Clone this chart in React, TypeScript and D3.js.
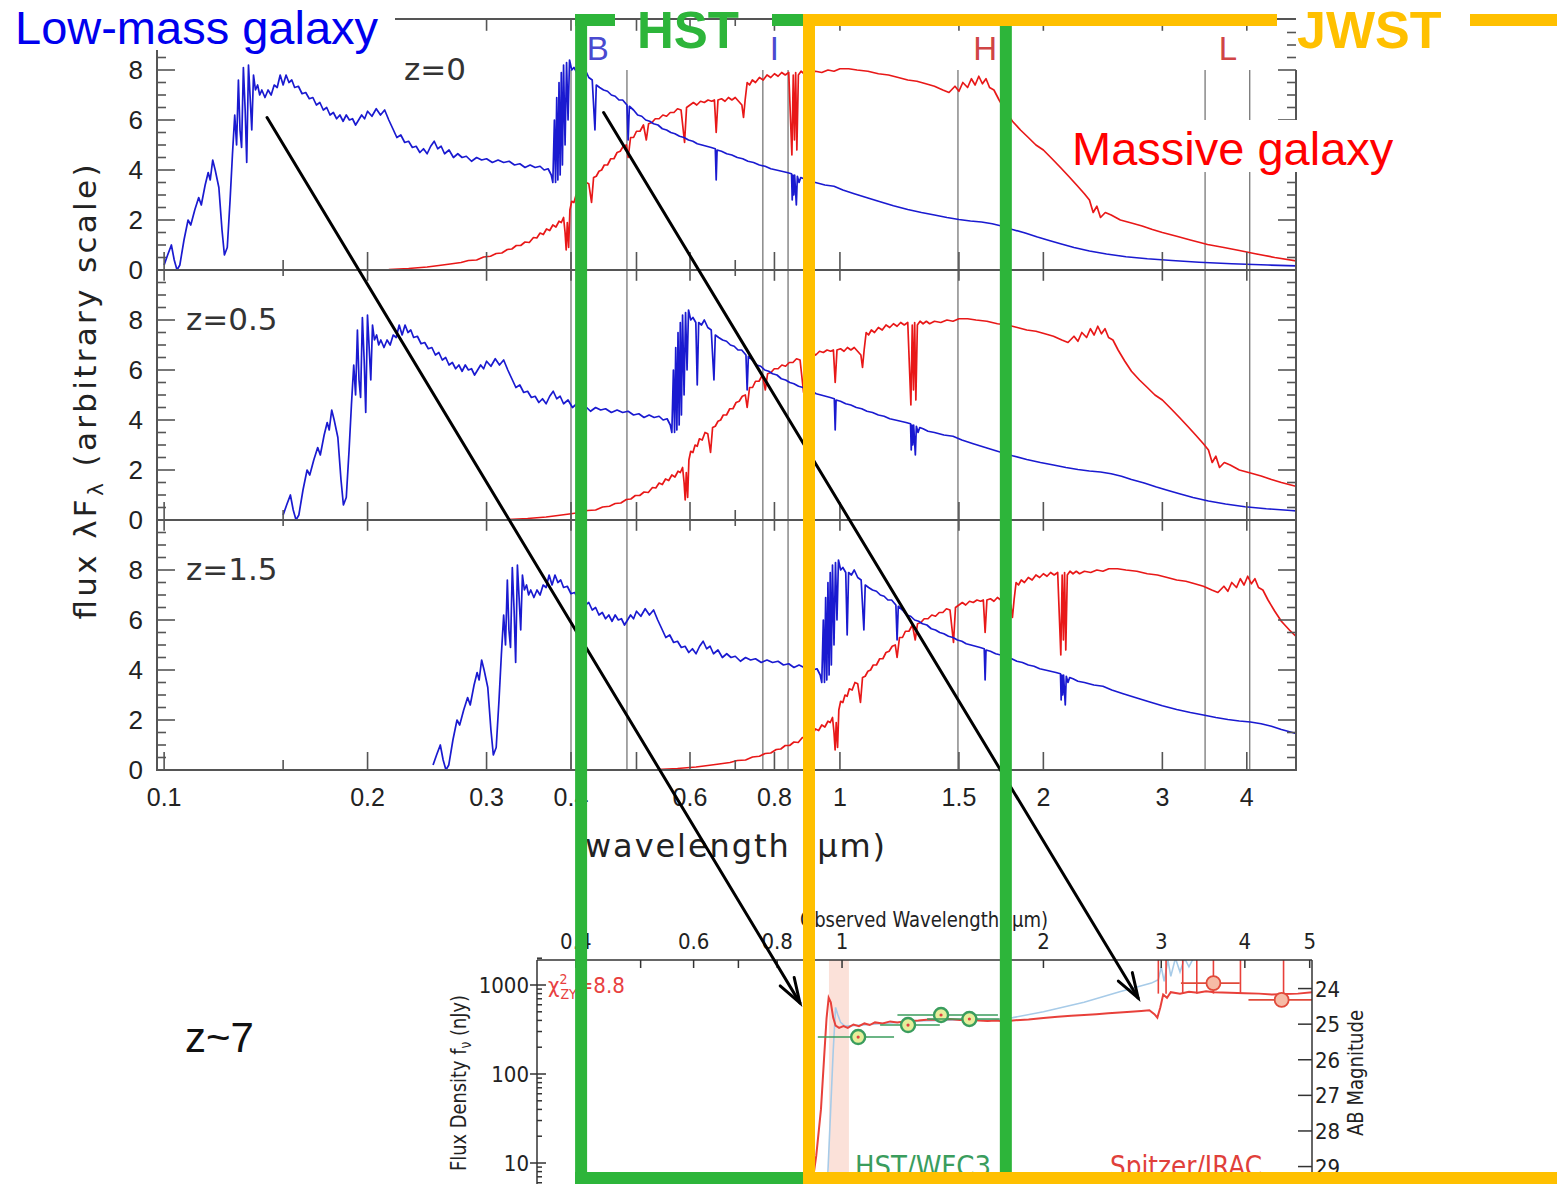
import React from "react";
import * as d3 from "d3";

// redshift of each stacked panel
const redshifts = [0, 0.5, 1.5];
const redshiftLabels = ["z=0", "z=0.5", "z=1.5"];

const lowMassSpectrum: [number, number][] = [
  [0.100,0.2],[0.1012,0.6],[0.1025,1.0],[0.1035,0.4],[0.1045,0.0],[0.1055,0.2],[0.107,1.2],[0.1085,2.0],[0.1095,1.8],[0.111,2.4],
  [0.1125,2.9],[0.1135,2.6],[0.115,3.4],[0.1162,3.9],[0.117,3.6],[0.118,4.4],[0.119,4.0],[0.1205,3.3],[0.1218,1.6],[0.1228,0.6],
  [0.124,0.9],[0.1252,2.8],[0.1262,4.6],[0.1272,6.2],[0.128,5.0],[0.1288,7.6],[0.1295,5.6],[0.1302,4.9],[0.131,8.1],[0.1318,6.4],
  [0.1325,4.3],[0.1333,8.2],[0.134,7.0],[0.1348,5.6],[0.1356,7.8],[0.1365,7.2],[0.1375,7.4],[0.1385,7.0],[0.1395,7.2],[0.141,6.9],
  [0.1425,7.2],[0.144,7.0],[0.1455,7.4],[0.147,7.3],[0.1485,7.8],[0.150,7.4],[0.1515,7.8],[0.153,7.5],[0.1545,7.6],[0.156,7.3],
  [0.158,7.35],[0.160,7.05],[0.162,7.1],[0.164,6.85],[0.166,6.9],[0.168,6.6],[0.170,6.7],[0.172,6.4],[0.174,6.5],[0.176,6.2],
  [0.178,6.3],[0.180,6.05],[0.182,6.2],[0.184,5.95],[0.186,6.2],[0.188,6.0],[0.190,6.05],[0.192,5.8],[0.194,6.0],[0.196,6.2],
  [0.198,6.05],[0.200,6.35],[0.203,6.15],[0.206,6.45],[0.209,6.2],[0.212,6.4],[0.215,6.0],[0.218,5.65],[0.221,5.3],[0.224,5.4],
  [0.227,5.1],[0.230,5.15],[0.233,4.9],[0.236,4.95],[0.239,4.7],[0.242,4.85],[0.245,4.65],[0.248,4.95],[0.251,5.15],[0.254,4.85],
  [0.257,4.95],[0.260,4.65],[0.264,4.8],[0.268,4.5],[0.272,4.65],[0.276,4.5],[0.280,4.55],[0.285,4.35],[0.290,4.5],[0.295,4.4],
  [0.300,4.45],[0.306,4.3],[0.312,4.4],[0.318,4.3],[0.324,4.35],[0.330,4.2],[0.336,4.25],[0.342,4.1],[0.348,4.2],[0.354,4.1],
  [0.360,4.15],[0.365,4.0],[0.370,4.05],[0.374,3.8],[0.376,3.5],[0.378,6.0],[0.3795,3.5],[0.381,6.9],[0.3825,3.6],[0.384,7.5],
  [0.3855,3.8],[0.387,7.9],[0.3885,4.2],[0.390,8.2],[0.392,5.0],[0.394,8.3],[0.396,6.0],[0.398,8.4],[0.401,8.0],[0.404,8.1],
  [0.408,7.9],[0.410,5.4],[0.412,7.9],[0.416,7.8],[0.420,8.0],[0.425,7.7],[0.430,7.6],[0.434,5.6],[0.436,7.4],[0.441,7.3],
  [0.447,7.2],[0.453,7.15],[0.459,7.0],[0.465,6.95],[0.471,6.8],[0.477,6.8],[0.484,6.6],[0.486,5.2],[0.488,6.55],[0.495,6.4],
  [0.502,6.2],[0.509,6.15],[0.516,6.0],[0.523,5.95],[0.530,5.85],[0.538,5.8],[0.546,5.65],[0.554,5.6],[0.562,5.5],[0.570,5.45],
  [0.579,5.35],[0.588,5.3],[0.597,5.2],[0.606,5.15],[0.615,5.05],[0.625,5.0],[0.635,4.95],[0.645,4.9],[0.654,4.85],[0.656,3.6],
  [0.658,4.8],[0.668,4.75],[0.680,4.65],[0.692,4.6],[0.705,4.5],[0.718,4.45],[0.731,4.35],[0.745,4.3],[0.760,4.2],[0.775,4.15],
  [0.790,4.05],[0.805,4.0],[0.820,3.95],[0.835,3.9],[0.848,3.85],[0.850,2.8],[0.852,3.8],[0.8545,3.0],[0.857,3.8],[0.862,2.6],
  [0.865,3.75],[0.870,3.5],[0.875,3.7],[0.885,3.65],[0.900,3.55],[0.920,3.5],[0.950,3.4],[0.980,3.35],[1.01,3.2],[1.05,3.05],
  [1.10,2.88],[1.15,2.72],[1.20,2.57],[1.26,2.42],[1.32,2.3],[1.38,2.2],[1.44,2.1],[1.50,2.02],[1.56,1.96],[1.62,1.92],
  [1.68,1.85],[1.74,1.75],[1.80,1.62],[1.88,1.48],[1.96,1.32],[2.04,1.18],[2.12,1.05],[2.22,0.9],[2.34,0.76],[2.48,0.64],
  [2.65,0.53],[2.85,0.45],[3.10,0.38],[3.40,0.31],[3.80,0.25],[4.30,0.2],[4.80,0.16],
];

const massiveSpectrum: [number, number][] = [
  [0.200,0.0],[0.215,0.02],[0.230,0.06],[0.245,0.12],[0.255,0.18],[0.265,0.24],[0.275,0.3],[0.282,0.38],[0.290,0.4],[0.297,0.52],
  [0.304,0.55],[0.310,0.66],[0.316,0.68],[0.322,0.82],[0.327,0.84],[0.332,0.98],[0.337,0.98],[0.342,1.12],[0.347,1.1],[0.352,1.3],
  [0.356,1.28],[0.360,1.48],[0.364,1.42],[0.368,1.64],[0.372,1.58],[0.376,1.8],[0.380,1.72],[0.384,1.95],[0.387,1.9],[0.390,2.1],
  [0.392,1.5],[0.3935,0.8],[0.395,1.9],[0.3968,0.9],[0.3985,2.4],[0.401,2.75],[0.404,2.7],[0.407,3.0],[0.410,2.95],[0.413,3.25],
  [0.417,3.2],[0.421,3.5],[0.425,3.45],[0.429,2.7],[0.432,3.7],[0.436,3.75],[0.440,3.95],[0.444,4.0],[0.448,4.2],[0.453,4.2],
  [0.458,4.45],[0.463,4.45],[0.468,4.7],[0.473,4.75],[0.478,4.95],[0.483,5.0],[0.486,4.5],[0.490,5.3],[0.495,5.3],[0.500,5.55],
  [0.506,5.55],[0.512,5.8],[0.517,5.2],[0.521,5.85],[0.527,5.9],[0.533,6.05],[0.540,6.05],[0.547,6.2],[0.554,6.15],[0.561,6.3],
  [0.568,6.3],[0.575,6.45],[0.582,6.4],[0.589,5.1],[0.593,6.5],[0.600,6.6],[0.607,6.7],[0.614,6.6],[0.622,6.75],[0.630,6.7],
  [0.638,6.8],[0.646,6.75],[0.652,6.8],[0.656,5.5],[0.660,6.8],[0.668,6.85],[0.676,6.75],[0.684,6.9],[0.692,6.8],[0.700,6.9],
  [0.708,6.75],[0.716,6.6],[0.720,6.1],[0.724,6.8],[0.729,7.5],[0.735,7.4],[0.742,7.6],[0.750,7.5],[0.760,7.7],[0.770,7.6],
  [0.780,7.8],[0.790,7.7],[0.800,7.85],[0.810,7.75],[0.820,7.9],[0.830,7.8],[0.840,7.9],[0.849,4.6],[0.853,7.8],[0.8565,5.2],
  [0.860,7.9],[0.8635,4.8],[0.868,7.8],[0.876,7.95],[0.885,7.85],[0.895,7.95],[0.905,7.85],[0.920,7.95],[0.940,7.9],[0.960,8.0],
  [0.980,7.95],[1.00,8.05],[1.03,8.05],[1.06,8.0],[1.10,7.95],[1.14,7.85],[1.18,7.8],[1.22,7.7],[1.26,7.6],[1.30,7.55],
  [1.34,7.45],[1.38,7.35],[1.42,7.2],[1.45,7.1],[1.48,7.35],[1.50,7.15],[1.52,7.5],[1.545,7.3],[1.565,7.65],[1.585,7.4],
  [1.605,7.75],[1.625,7.45],[1.645,7.65],[1.665,7.3],[1.69,7.2],[1.72,6.8],[1.76,6.35],[1.80,5.95],[1.85,5.6],[1.90,5.3],
  [1.95,5.0],[2.00,4.8],[2.06,4.45],[2.12,4.1],[2.18,3.75],[2.24,3.4],[2.30,3.05],[2.34,2.8],[2.37,2.3],[2.40,2.55],
  [2.43,2.1],[2.47,2.3],[2.52,2.2],[2.60,2.0],[2.70,1.88],[2.80,1.76],[2.90,1.62],[3.00,1.5],[3.15,1.35],[3.30,1.2],
  [3.50,1.02],[3.70,0.9],[3.90,0.78],[4.10,0.66],[4.40,0.5],[4.80,0.34],
];

const waveTicks = [0.1, 0.15, 0.2, 0.3, 0.4, 0.5, 0.6, 0.7, 0.8, 0.9, 1, 1.5, 2, 3, 4];
const shortWaveTicks = [0.15, 0.7, 0.9];
const waveLabels = [0.1, 0.2, 0.3, 0.4, 0.6, 0.8, 1, 1.5, 2, 3, 4];
const fluxLabels = [0, 2, 4, 6, 8];

// filter bands (edges in um) and their letters
const filterEdges = [0.40, 0.484, 0.769, 0.838, 1.495, 1.75, 3.47, 4.04];
const filterNames = ["B", "I", "H", "L"];
const filterCentres = [0.438, 0.80, 1.64, 3.75];

// instrument coverage boxes (um)
const hstRange = [0.414, 1.76];
const jwstStart = 0.9;

// z~7 inset
const insetWaveLabels = [0.4, 0.6, 0.8, 1, 2, 3, 4, 5];
const insetWaveTicks = [0.4, 0.5, 0.6, 0.7, 0.8, 0.9, 1, 2, 3, 4, 5];
const insetFluxLabels = [10, 100, 1000];
const abMagLabels = [24, 25, 26, 27, 28, 29];
const sedModel: [number, number][] = [
  [0.90,5],[0.915,12],[0.93,40],[0.94,150],[0.948,420],[0.955,720],[0.962,640],[0.97,430],[0.978,350],[0.99,330],
  [1.005,345],[1.02,330],[1.04,360],[1.06,345],[1.08,370],[1.10,355],[1.12,380],[1.15,370],[1.18,390],[1.21,380],
  [1.25,395],[1.30,400],[1.35,410],[1.40,405],[1.45,415],[1.50,405],[1.55,410],[1.60,400],[1.65,395],[1.70,400],
  [1.75,390],[1.80,400],[1.90,410],[2.00,425],[2.10,440],[2.20,450],[2.30,460],[2.40,470],[2.50,480],[2.60,490],
  [2.70,500],[2.80,510],[2.88,520],[2.93,470],[2.96,430],[2.99,560],[3.02,780],[3.06,720],[3.10,830],[3.20,800],
  [3.30,840],[3.40,820],[3.50,850],[3.60,830],[3.80,820],[4.00,810],[4.20,800],[4.40,780],[4.60,790],[4.80,800],[5.05,830],
];
const sedModelAlt: [number, number][] = [
  [0.95,5],[0.96,30],[0.97,180],[0.978,560],[0.985,470],[0.995,380],[1.01,345],[1.1,360],[1.3,395],[1.5,405],
  [1.7,405],[1.8,430],[2.0,500],[2.3,640],[2.6,840],[2.9,1050],[2.97,1150],[3.0,1600],[3.03,1100],[3.07,1900],
  [3.1,1250],[3.15,2000],[3.2,1400],[3.25,2000],[3.3,1600],[3.35,2000],
];
// photometry: [wavelength, low edge, high edge, flux nJy]
const hstPhot = [[1.057, 0.92, 1.196, 260], [1.255, 1.14, 1.40, 355], [1.406, 1.21, 1.71, 460], [1.55, 1.34, 1.72, 415]];
const iracPhot = [[3.59, 3.21, 3.93, 1050], [4.54, 4.05, 5.05, 680]];
const iracSpikes = [2.97, 3.05, 3.23, 3.39, 3.59, 3.94, 4.57];
const dropoutBand = [0.956, 1.024];

// arrows: [rest wavelength, flux] in the z=0 panel -> [observed wavelength, nJy] in the inset
const arrowStarts = [[0.142, 6.1], [0.447, 6.3]];
const arrowEnds = [[0.865, 630], [2.77, 715]];

const sans = "'Liberation Sans', Arial, sans-serif";
const narrow = "'Liberation Sans Narrow', 'DejaVu Sans Condensed', sans-serif";
const dejavu = "'DejaVu Sans', sans-serif";
const frameColor = "#555";
const blue = "#1a1ad0";
const red = "#e81818";
const green = "#2db53a";
const orange = "#ffc000";

const x = d3.scaleLog().domain([0.0976, 4.73]).range([157, 1296]);
const panelY = (i: number) => d3.scaleLinear().domain([0, 10]).range([270 + 250 * i, 20 + 250 * i]);

const ix = d3.scaleLog().domain([0.35, 5.04]).range([537, 1312]);
const iy = d3.scaleLog().domain([10, 1000]).range([1163, 985]);
const magToFlux = (m: number) => Math.pow(10, (31.4 - m) / 2.5);

function Arrow({x1, y1, x2, y2}: any) {
  const a = Math.atan2(y2 - y1, x2 - x1);
  const len = 26, spread = 0.32;
  const h1 = [x2 - len * Math.cos(a - spread), y2 - len * Math.sin(a - spread)];
  const h2 = [x2 - len * Math.cos(a + spread), y2 - len * Math.sin(a + spread)];
  return (
    <g stroke="#000" strokeWidth={3} fill="none" strokeLinecap="round">
      <line x1={x1} y1={y1} x2={x2} y2={y2}/>
      <polyline points={`${h1[0]},${h1[1]} ${x2},${y2} ${h2[0]},${h2[1]}`}/>
    </g>
  );
}

const App = () => {
  const panels = redshifts.map((z, i) => {
    const y = panelY(i);
    const line = d3.line<[number, number]>().x(d => x(d[0] * (1 + z))).y(d => y(d[1]));
    return {z, i, y, blueD: line(lowMassSpectrum), redD: line(massiveSpectrum)};
  });

  const insetLine = d3.line<[number, number]>().x(d => ix(d[0])).y(d => iy(d[1]));

  return (
    <svg width={1557} height={1184} style={{position: "absolute", left: 0, top: 0, background: "#fff"}}>
      <defs>
        {panels.map(p => (
          <clipPath id={`panel${p.i}`} key={p.i}>
            <rect x={157} y={20 + 250 * p.i} width={1139} height={250}/>
          </clipPath>
        ))}
        <clipPath id="inset">
          <rect x={537} y={960} width={775} height={224}/>
        </clipPath>
      </defs>

      {/* filter band lines */}
      {filterEdges.map((f, k) => (
        <line key={k} x1={x(f)} x2={x(f)} y1={70} y2={770} stroke="#777" strokeWidth={1.3}/>
      ))}

      {/* spectra */}
      {panels.map(p => (
        <g key={p.i} clipPath={`url(#panel${p.i})`} fill="none" strokeLinejoin="round">
          <path d={p.redD || ""} stroke={red} strokeWidth={1.7}/>
          <path d={p.blueD || ""} stroke={blue} strokeWidth={1.7}/>
        </g>
      ))}

      {/* frame */}
      <g stroke={frameColor} strokeWidth={2}>
        <line x1={157} x2={157} y1={50} y2={771}/>
        <line x1={1296} x2={1296} y1={70} y2={771}/>
        <line x1={395} x2={1296} y1={19} y2={19}/>
        {[270, 520, 770].map(b => <line key={b} x1={157} x2={1296} y1={b} y2={b}/>)}
      </g>
      {panels.map(p => (
        <g key={p.i} stroke={frameColor} strokeWidth={1.6}>
          {waveTicks.map(t => {
            const len = shortWaveTicks.includes(t) ? 10 : 18;
            return (
              <g key={t}>
                <line x1={x(t)} x2={x(t)} y1={p.y(0)} y2={p.y(0) - len}/>
                <line x1={x(t)} x2={x(t)} y1={p.y(10)} y2={p.y(10) + len * 0.6}/>
              </g>
            );
          })}
          {d3.range(0.5, 10, 0.5).map(v => {
            const len = v % 2 === 0 ? 18 : 9;
            return (
              <g key={v}>
                <line x1={157} x2={157 + len} y1={p.y(v)} y2={p.y(v)}/>
                <line x1={1296} x2={1296 - len} y1={p.y(v)} y2={p.y(v)}/>
              </g>
            );
          })}
        </g>
      ))}
      {panels.map(p => (
        <g key={p.i} fontFamily={sans} fontSize={26} fill="#222">
          {fluxLabels.map(v => (
            <text key={v} x={143} y={p.y(v) + 9} textAnchor="end">{v}</text>
          ))}
          <text x={p.i === 0 ? 404 : 186} y={p.y(8) + 10} fontFamily={dejavu} fontSize={31} fill="#333">
            {redshiftLabels[p.i]}
          </text>
        </g>
      ))}
      <g fontFamily={sans} fontSize={25} fill="#222" textAnchor="middle">
        {waveLabels.map(t => <text key={t} x={x(t)} y={806}>{t}</text>)}
      </g>
      <text x={735} y={857} textAnchor="middle" fontFamily={dejavu} fontSize={32} fill="#222"
            textLength={300} lengthAdjust="spacing">wavelength (µm)</text>
      <text transform="translate(96,392) rotate(-90)" textAnchor="middle" fontFamily={dejavu} fontSize={31}
            fill="#222" textLength={455} lengthAdjust="spacing">
        flux λF<tspan dy={7} fontSize={22}>λ</tspan><tspan dy={-7}> (arbitrary scale)</tspan>
      </text>

      {/* filter letters */}
      {filterNames.map((n, k) => (
        <text key={n} x={x(filterCentres[k])} y={60} textAnchor="middle" fontFamily={sans} fontSize={33}
              fill={k < 2 ? "#4a4ad0" : "#d04545"}>{n}</text>
      ))}

      {/* z~7 inset */}
      <g>
        <g clipPath="url(#inset)">
          <rect x={ix(dropoutBand[0])} y={960} width={ix(dropoutBand[1]) - ix(dropoutBand[0])} height={224} fill="#fbe1d9"/>
          <path d={insetLine(sedModelAlt) || ""} fill="none" stroke="#a7cbe8" strokeWidth={1.6}/>
          {iracSpikes.map(w => (
            <line key={w} x1={ix(w)} x2={ix(w)} y1={iy(2000)} y2={iy(800)} stroke="#e8403a" strokeWidth={1.6}/>
          ))}
          <path d={insetLine(sedModel) || ""} fill="none" stroke="#e8403a" strokeWidth={2}/>
          {iracPhot.map(([w, lo, hi, f]) => (
            <g key={w}>
              <line x1={ix(lo)} x2={ix(hi)} y1={iy(f)} y2={iy(f)} stroke="#e04a3a" strokeWidth={1.6}/>
              <circle cx={ix(w)} cy={iy(f)} r={7} fill="#f6bba6" stroke="#e04a3a" strokeWidth={1.8}/>
            </g>
          ))}
          {hstPhot.map(([w, lo, hi, f]) => (
            <g key={w}>
              <line x1={ix(lo)} x2={ix(hi)} y1={iy(f)} y2={iy(f)} stroke="#3a9d5d" strokeWidth={1.6}/>
              <circle cx={ix(w)} cy={iy(f)} r={7} fill="#e6ee9a" stroke="#3a9d5d" strokeWidth={2.4}/>
              <circle cx={ix(w)} cy={iy(f)} r={1.6} fill="#e04040"/>
            </g>
          ))}
        </g>
        <g stroke="#333" strokeWidth={1.5}>
          <line x1={537} x2={1312} y1={960} y2={960}/>
          <line x1={537} x2={537} y1={960} y2={1184}/>
          <line x1={1312} x2={1312} y1={960} y2={1184}/>
          {insetWaveTicks.map(t => <line key={t} x1={ix(t)} x2={ix(t)} y1={960} y2={968}/>)}
          {insetFluxLabels.map(v => <line key={v} x1={530} x2={546} y1={iy(v)} y2={iy(v)}/>)}
          {[2, 3, 4, 5, 6, 7, 8, 9, 20, 30, 40, 50, 60, 70, 80, 90, 200, 300, 400, 500, 600, 700, 800, 900, 2000].map(v => (
            <line key={v} x1={537} x2={542} y1={iy(v)} y2={iy(v)}/>
          ))}
          {abMagLabels.map(m => <line key={m} x1={1298} x2={1312} y1={iy(magToFlux(m))} y2={iy(magToFlux(m))}/>)}
        </g>
        <g fontFamily={narrow} fontSize={22} fill="#222">
          {insetWaveLabels.map(t => <text key={t} x={ix(t)} y={949} textAnchor="middle">{t}</text>)}
          {insetFluxLabels.map(v => <text key={v} x={529} y={iy(v) + 8} textAnchor="end">{v}</text>)}
          {abMagLabels.map(m => <text key={m} x={1315} y={iy(magToFlux(m)) + 8}>{m}</text>)}
          <text x={924} y={927} textAnchor="middle" textLength={248} lengthAdjust="spacingAndGlyphs">Observed Wavelength (µm)</text>
          <text transform="translate(466,1083) rotate(-90)" textAnchor="middle" textLength={176} lengthAdjust="spacingAndGlyphs">
            Flux Density f<tspan dy={5} fontSize={15}>ν</tspan><tspan dy={-5}> (nJy)</tspan>
          </text>
          <text transform="translate(1363,1073) rotate(-90)" textAnchor="middle" textLength={126} lengthAdjust="spacingAndGlyphs">AB Magnitude</text>
        </g>
        <text x={548} y={993} fontFamily={narrow} fontSize={22} fill="#e84040">
          χ<tspan dy={-9} fontSize={14}>2</tspan><tspan dx={-7} dy={15} fontSize={14}>ZY</tspan><tspan dy={-6}>=8.8</tspan>
        </text>
        <text x={855} y={1176} fontFamily={narrow} fontSize={29} fill="#3a9d5d" textLength={136} lengthAdjust="spacingAndGlyphs">HST/WFC3</text>
        <text x={1110} y={1176} fontFamily={narrow} fontSize={29} fill="#e0403a" textLength={152} lengthAdjust="spacingAndGlyphs">Spitzer/IRAC</text>
      </g>

      <text x={185} y={1052} fontFamily={sans} fontSize={42} fill="#111">z~7</text>

      {/* arrows from the spectra to the inset */}
      {arrowStarts.map((s, k) => (
        <Arrow key={k} x1={x(s[0])} y1={panelY(0)(s[1])} x2={ix(arrowEnds[k][0])} y2={iy(arrowEnds[k][1])}/>
      ))}

      {/* HST coverage */}
      <g stroke={green} strokeWidth={12} fill="none">
        <line x1={x(hstRange[0])} x2={x(hstRange[0])} y1={14} y2={1184}/>
        <line x1={x(hstRange[1])} x2={x(hstRange[1])} y1={14} y2={1184}/>
        <line x1={x(hstRange[0]) - 6} x2={615} y1={20} y2={20}/>
        <line x1={772} x2={x(jwstStart)} y1={20} y2={20}/>
        <line x1={x(hstRange[0]) - 6} x2={x(jwstStart)} y1={1178} y2={1178}/>
      </g>
      {/* JWST coverage */}
      <g stroke={orange} strokeWidth={12} fill="none">
        <line x1={x(jwstStart)} x2={x(jwstStart)} y1={14} y2={1184}/>
        <line x1={x(jwstStart) - 6} x2={1277} y1={20} y2={20}/>
        <line x1={1470} x2={1557} y1={20} y2={20}/>
        <line x1={x(jwstStart) - 6} x2={1557} y1={1178} y2={1178}/>
      </g>

      {/* labels */}
      <rect x={0} y={0} width={393} height={50} fill="#fff"/>
      <text x={15} y={44} fontFamily={sans} fontSize={47} fill="#0000ee">Low-mass galaxy</text>
      <rect x={1068} y={120} width={338} height={52} fill="#fff"/>
      <text x={1072} y={165} fontFamily={sans} fontSize={47} fill="#ff0000">Massive galaxy</text>
      <text x={637} y={48} fontFamily={sans} fontSize={51} fontWeight="bold" fill={green}>HST</text>
      <text x={1297} y={48} fontFamily={sans} fontSize={52} fontWeight="bold" fill={orange}>JWST</text>
    </svg>
  );
};

export default App;
